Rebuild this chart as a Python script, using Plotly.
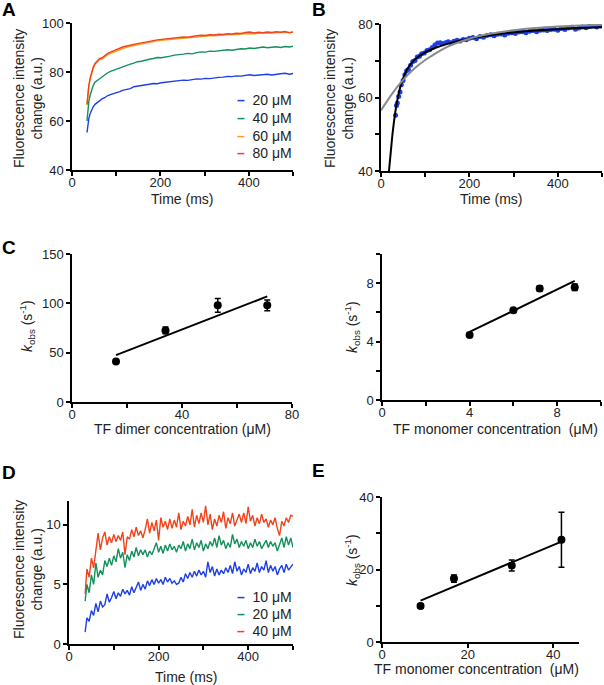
import plotly.graph_objects as go

W, H = 604, 685
FONT = "Liberation Sans, Arial, sans-serif"

BLUE = "#1f3fe6"
GREEN = "#14905c"
ORANGE = "#f5a11e"
RED = "#f2421c"

# ---- panel A: fluorescence traces, TF dimer titration ----
t_a = [34, 36, 38, 41, 44, 48, 52, 57, 62, 68,
       74, 80, 87, 94, 101, 108, 116, 124, 132, 140,
       148, 157, 166, 175, 184, 193, 202, 212, 222, 232,
       242, 252, 262, 272, 282, 292, 302, 312, 322, 332,
       342, 352, 362, 372, 382, 392, 402, 412, 422, 432,
       442, 452, 462, 472, 482, 492, 500]
a_20uM = [55.3, 58.5, 61.0, 63.0, 64.5, 65.8, 66.8, 67.5, 68.3, 69.0,
          69.5, 70.3, 70.8, 71.2, 71.3, 72.0, 72.6, 73.0, 73.2, 74.0,
          74.3, 74.5, 74.8, 75.0, 75.3, 75.2, 75.6, 75.8, 76.2, 76.3,
          76.4, 76.7, 76.6, 77.0, 77.2, 77.1, 77.4, 77.3, 77.7, 77.8,
          77.9, 78.2, 78.1, 78.4, 78.3, 78.6, 78.9, 78.6, 78.8, 78.9,
          79.1, 78.8, 79.2, 79.3, 79.5, 79.1, 79.4]
a_40uM = [60.0, 64.0, 68.0, 70.5, 72.5, 74.5, 75.8, 76.5, 77.3, 78.2,
          79.0, 79.6, 80.3, 80.8, 81.0, 81.8, 82.3, 82.7, 83.2, 83.6,
          84.2, 84.4, 84.9, 85.2, 85.5, 85.9, 85.8, 86.3, 86.5, 86.9,
          87.0, 87.3, 87.6, 87.4, 87.9, 88.2, 88.1, 88.5, 88.4, 88.7,
          88.9, 89.1, 88.9, 89.3, 89.5, 89.4, 89.8, 89.6, 89.9, 90.2,
          89.9, 90.1, 90.3, 90.0, 90.4, 90.2, 90.5]
a_60uM = [66.5, 70.5, 74.0, 77.0, 79.5, 81.5, 83.0, 84.0, 85.0, 85.3,
          86.3, 87.0, 87.6, 88.1, 88.6, 89.3, 89.8, 90.2, 90.5, 90.8,
          91.2, 91.5, 91.9, 92.2, 92.4, 92.7, 92.9, 93.1, 93.3, 93.5,
          93.7, 93.9, 94.0, 94.2, 94.3, 94.5, 94.6, 94.8, 94.8, 95.0,
          95.0, 95.2, 95.2, 95.4, 95.4, 95.6, 95.7, 95.6, 95.8, 95.9,
          95.8, 96.0, 96.0, 96.1, 96.1, 96.2, 96.2]
a_80uM = [66.8, 71.0, 74.5, 77.5, 80.0, 82.0, 83.5, 84.5, 85.5, 85.8,
          86.8, 87.5, 88.1, 88.6, 89.0, 89.8, 90.3, 90.6, 91.0, 91.2,
          91.6, 91.9, 92.3, 92.6, 92.8, 93.1, 93.3, 93.4, 93.7, 93.8,
          94.1, 94.3, 94.2, 94.6, 94.8, 95.0, 94.9, 95.2, 95.1, 95.4,
          95.3, 95.6, 95.5, 95.8, 95.7, 96.1, 96.3, 95.9, 96.2, 96.0,
          96.3, 96.1, 96.4, 96.2, 96.5, 96.0, 96.4]

# ---- panel B: 20 uM trace with double (black) and single (grey) exp fits ----
t_b = [33, 35, 37, 40, 43, 46, 50, 54, 58, 62,
       67, 72, 77, 82, 87, 92, 98, 104, 110, 116,
       122, 128, 134, 140, 146, 152, 158, 165, 172, 179,
       186, 193, 200, 208, 216, 224, 232, 240, 248, 256,
       264, 272, 280, 288, 296, 304, 312, 320, 328, 336,
       344, 352, 360, 368, 376, 384, 392, 400, 408, 416,
       424, 432, 440, 448, 456, 464, 472, 480, 488, 496]
b_trace = [55.2, 57.8, 58.5, 60.3, 61.5, 63.5, 64.6, 66.2, 67.3, 67.6,
           68.8, 69.8, 70.1, 71.0, 71.2, 71.9, 72.1, 72.8, 73.0, 73.6,
           74.3, 74.8, 74.9, 74.6, 74.9, 75.2, 74.9, 75.3, 75.6, 75.4,
           75.8, 75.7, 76.1, 76.3, 76.0, 76.6, 76.4, 76.9, 77.1, 76.8,
           77.2, 77.3, 77.0, 77.5, 77.6, 77.4, 77.8, 77.9, 77.6, 78.0,
           78.2, 77.9, 78.3, 78.4, 78.2, 78.5, 78.6, 78.3, 78.8, 78.5,
           78.9, 79.1, 78.6, 78.9, 79.2, 79.0, 79.4, 79.6, 79.2, 79.5]
t_fit2 = [18, 22, 26, 30, 35, 40, 45, 50, 60, 70, 80, 100, 125, 150,
          200, 250, 300, 350, 400, 450, 500]
fit_double = [40.0, 45.0, 50.0, 54.0, 58.0, 61.0, 63.5, 65.2, 67.8, 69.5,
              70.7, 72.3, 73.6, 74.6, 76.0, 77.0, 77.7, 78.2, 78.6, 78.9, 79.1]
t_fit1 = [0, 25, 50, 75, 100, 125, 150, 200, 250, 300, 350, 400, 450, 500]
fit_single = [56.5, 61.0, 64.8, 67.8, 70.2, 72.1, 73.8, 76.0, 77.4, 78.3,
              78.9, 79.3, 79.6, 79.8]

# ---- panel C: kobs vs concentration ----
dimer_conc = [16, 34, 53, 71]
dimer_kobs = [41, 72.5, 98, 98]
dimer_err = [1.5, 3.4, 7, 5.4]
dimer_fit_x = [16, 71]
dimer_fit_y = [47.5, 107]

mono_conc = [4.0, 6.0, 7.2, 8.8]
mono_kobs = [4.45, 6.15, 7.63, 7.72]
mono_err = [0.1, 0.1, 0.18, 0.22]
mono_fit_x = [4.0, 8.8]
mono_fit_y = [4.66, 8.16]

# ---- panel D: fluorescence traces, TF monomer titration ----
t_d = [36, 40, 45, 50, 55, 60, 65, 70, 75, 80,
       85, 90, 95, 100, 105, 110, 115, 120, 125, 130,
       135, 140, 145, 150, 155, 160, 165, 170, 175, 180,
       185, 190, 195, 200, 205, 210, 215, 220, 225, 230,
       235, 240, 245, 250, 255, 260, 265, 270, 275, 280,
       285, 290, 295, 300, 305, 310, 315, 320, 325, 330,
       335, 340, 345, 350, 355, 360, 365, 370, 375, 380,
       385, 390, 395, 400, 405, 410, 415, 420, 425, 430,
       435, 440, 445, 450, 455, 460, 465, 470, 475, 480,
       485, 490, 495, 500]
d_10uM = [1.0, 2.2, 1.9, 2.8, 2.4, 3.4, 2.7, 3.6, 3.1, 3.3,
          4.2, 3.5, 3.9, 4.4, 3.8, 4.3, 4.0, 4.6, 4.2, 4.5,
          4.1, 4.8, 4.3, 4.7, 5.2, 4.5, 5.0, 4.6, 5.3, 4.9,
          5.4, 5.0, 5.5, 5.1, 5.4, 5.0, 5.6, 5.2, 5.5, 5.1,
          5.3, 5.0, 5.1, 5.6, 5.2, 5.9, 5.5, 6.0, 5.6, 6.1,
          5.7, 6.2, 5.8, 6.1, 5.6, 6.9, 6.0, 6.5, 5.7, 6.3,
          5.8, 6.2, 5.9, 6.4, 6.0, 6.6, 5.9, 6.9, 6.1, 6.5,
          5.8, 6.3, 6.0, 6.7, 5.9, 6.4, 6.1, 6.8, 6.0, 6.5,
          6.2, 7.0, 6.0, 6.6, 6.1, 6.5, 5.8, 6.3, 6.6, 6.0,
          6.7, 6.2, 6.5, 6.7]
d_20uM = [3.6, 5.0, 4.3, 5.8, 5.0, 6.8, 5.6, 6.2, 5.8, 7.0,
          6.5, 7.2, 6.6, 7.4, 6.9, 8.0, 7.2, 7.7, 6.4, 7.5,
          7.0, 7.8, 7.3, 8.1, 7.4, 7.9, 7.5, 7.9, 7.3, 7.8,
          7.5, 8.1, 8.5, 7.7, 8.2, 7.6, 8.3, 7.8, 8.4, 7.9,
          8.2, 7.7, 8.3, 8.0, 8.6, 7.8, 8.4, 8.0, 8.8, 7.9,
          8.5, 8.1, 8.7, 7.8, 8.4, 8.0, 8.6, 8.2, 8.9, 8.1,
          9.1, 8.3, 8.7, 8.0, 8.5, 8.1, 9.2, 8.4, 8.8, 8.1,
          8.6, 8.2, 8.7, 8.0, 8.5, 8.1, 8.8, 8.2, 8.6, 8.0,
          8.4, 8.7, 8.1, 8.6, 8.2, 8.5, 7.8, 8.4, 8.9, 8.1,
          9.0, 8.3, 8.9, 8.1]
d_40uM = [4.2, 6.3, 5.6, 7.2, 6.4, 7.8, 9.3, 7.9, 8.9, 9.4,
          8.3, 9.0, 8.5, 9.2, 8.6, 9.1, 8.7, 9.4, 7.5, 9.0,
          8.8, 9.6, 9.0, 9.8, 9.1, 9.5, 8.9, 9.6, 10.5, 9.3,
          10.2, 9.5, 10.4, 8.7, 10.6, 9.8, 10.3, 9.6, 10.5, 9.7,
          10.4, 9.8, 11.0, 9.6, 10.3, 9.9, 10.7, 10.0, 11.3, 9.8,
          10.8, 10.1, 11.0, 10.2, 11.6, 10.0, 10.9, 9.6, 10.5, 9.9,
          10.8, 10.2, 11.1, 9.7, 10.6, 10.1, 11.0, 9.9, 10.4, 10.9,
          10.2, 11.0, 10.1, 11.5, 10.3, 10.8, 9.9, 10.6, 10.1, 10.9,
          10.2, 10.5, 9.8, 10.4, 10.0, 10.6, 9.7, 9.1, 10.3, 9.9,
          10.6, 10.2, 10.8, 10.7]

# ---- panel E: kobs vs TF monomer concentration ----
e_conc = [9.0, 16.8, 30.3, 41.9]
e_kobs = [9.9, 17.5, 21.1, 28.2]
e_err = [0.6, 1.0, 1.5, 7.6]
e_fit_x = [9.0, 41.9]
e_fit_y = [11.4, 27.7]


def px(x):
    return x / W


def py(y):
    return 1 - y / H


fig = go.Figure()

# A
for ys, col in [(a_20uM, BLUE), (a_40uM, GREEN), (a_60uM, ORANGE), (a_80uM, RED)]:
    fig.add_trace(go.Scatter(x=t_a, y=ys, mode="lines", line=dict(color=col, width=1.4),
                             xaxis="x", yaxis="y"))
# B
fig.add_trace(go.Scatter(x=t_b, y=b_trace, mode="markers",
                         marker=dict(color=BLUE, size=5, line=dict(width=0)),
                         xaxis="x2", yaxis="y2"))
fig.add_trace(go.Scatter(x=t_fit2, y=fit_double, mode="lines", line=dict(color="black", width=2, shape="spline"),
                         xaxis="x2", yaxis="y2"))
fig.add_trace(go.Scatter(x=t_fit1, y=fit_single, mode="lines", line=dict(color="#8a8a8a", width=2, shape="spline"),
                         xaxis="x2", yaxis="y2"))


def kobs_panel(xs, ys, err, fx, fy, ax):
    fig.add_trace(go.Scatter(x=fx, y=fy, mode="lines", line=dict(color="black", width=2),
                             xaxis="x" + ax, yaxis="y" + ax))
    fig.add_trace(go.Scatter(x=xs, y=ys, mode="markers",
                             marker=dict(color="black", size=8),
                             error_y=dict(type="data", array=err, color="black", thickness=1.5, width=3),
                             xaxis="x" + ax, yaxis="y" + ax))


kobs_panel(dimer_conc, dimer_kobs, dimer_err, dimer_fit_x, dimer_fit_y, "3")
kobs_panel(mono_conc, mono_kobs, mono_err, mono_fit_x, mono_fit_y, "4")

# D
for ys, col in [(d_10uM, BLUE), (d_20uM, GREEN), (d_40uM, RED)]:
    fig.add_trace(go.Scatter(x=t_d, y=ys, mode="lines", line=dict(color=col, width=1.4),
                             xaxis="x5", yaxis="y5"))

kobs_panel(e_conc, e_kobs, e_err, e_fit_x, e_fit_y, "6")

# panel boxes in pixels: x0, x1, ytop, ybottom
boxes = {
    "": (72, 293, 23, 170),
    "2": (381, 602, 24, 171),
    "3": (72, 292, 254, 402),
    "4": (382, 601, 254, 400),
    "5": (69, 293, 501, 644),
    "6": (382, 579, 497, 642),
}
ranges = {
    "": ([0, 500], [40, 100]),
    "2": ([0, 500], [40, 80]),
    "3": ([0, 80], [0, 150]),
    "4": ([0, 10], [0, 10]),
    "5": ([0, 500], [0, 12]),
    "6": ([0, 46], [0, 40]),
}
xticks = {
    "": ([0, 100, 200, 300, 400, 500], ["0", "", "200", "", "400", ""]),
    "2": ([0, 100, 200, 300, 400, 500], ["0", "", "200", "", "400", ""]),
    "3": ([0, 20, 40, 60, 80], ["0", "", "40", "", "80"]),
    "4": ([0, 2, 4, 6, 8, 10], ["0", "", "4", "", "8", ""]),
    "5": ([0, 100, 200, 300, 400, 500], ["0", "", "200", "", "400", ""]),
    "6": ([0, 20, 40], ["0", "20", "40"]),
}
yticks = {
    "": ([40, 60, 80, 100], ["40", "60", "80", "100"]),
    "2": ([40, 50, 60, 70, 80], ["40", "", "60", "", "80"]),
    "3": ([0, 50, 100, 150], ["0", "50", "100", "150"]),
    "4": ([0, 2, 4, 6, 8, 10], ["0", "", "4", "", "8", ""]),
    "5": ([0, 5, 10], ["0", "5", "10"]),
    "6": ([0, 10, 20, 30, 40], ["0", "", "20", "", "40"]),
}

axis_style = dict(showgrid=False, zeroline=False, showline=True, linecolor="black", linewidth=1.5,
                  ticks="outside", ticklen=4, tickwidth=1.5, tickcolor="black", automargin=False,
                  tickfont=dict(family=FONT, size=13, color="#222"), tickmode="array")

layout = {}
for k, (x0, x1, yt, yb) in boxes.items():
    layout["xaxis" + k] = dict(axis_style, domain=[px(x0), px(x1)], range=ranges[k][0],
                               anchor="y" + k, tickvals=xticks[k][0], ticktext=xticks[k][1],
                               ticklabelstandoff=-4)
    layout["yaxis" + k] = dict(axis_style, domain=[py(yb), py(yt)], range=ranges[k][1],
                               anchor="x" + k, tickvals=yticks[k][0], ticktext=yticks[k][1])

fig.update_layout(**layout)

ann = []


def text(s, x, y, size=14, angle=0, xa="center", bold=False):
    ann.append(dict(text="<b>%s</b>" % s if bold else s, x=px(x), y=py(y), xref="paper", yref="paper",
                    showarrow=False, textangle=angle, xanchor=xa, yanchor="middle",
                    font=dict(family=FONT, size=size, color="#222" if not bold else "black")))


flu = "Fluorescence intensity<br>change (a.u.)"
kobs = "<i>k</i><sub>obs</sub> (s<sup>-1</sup>)"

# panel letters
text("A", 0, 10, 19, xa="left", bold=True)
text("B", 310, 10, 19, xa="left", bold=True)
text("C", 0, 247, 19, xa="left", bold=True)
text("D", 0, 473, 19, xa="left", bold=True)
text("E", 310, 470, 19, xa="left", bold=True)

# axis titles
text(flu, 28, 99, angle=-90)
text(flu, 339, 99, angle=-90)
text(kobs, 27, 326, angle=-90)
text(kobs, 352, 327, angle=-90)
text(flu, 28, 570, angle=-90)
text(kobs, 352, 560, angle=-90)
text("Time (ms)", 182, 199)
text("Time (ms)", 491, 199)
text("TF dimer concentration (μM)", 182, 429)
text("TF monomer concentration  (μM)", 495, 429)
text("Time (ms)", 186, 677)
text("TF monomer concentration  (μM)", 476, 669)

# legends
for lab, col, y in [("20 μM", BLUE, 100), ("40 μM", GREEN, 118), ("60 μM", ORANGE, 136), ("80 μM", RED, 153)]:
    text('<span style="color:%s"><b>–</b></span>  %s' % (col, lab), 235, y, xa="left")
for lab, col, y in [("10 μM", BLUE, 597), ("20 μM", GREEN, 614), ("40 μM", RED, 631)]:
    text('<span style="color:%s"><b>–</b></span>  %s' % (col, lab), 235, y, xa="left")

fig.update_layout(width=W, height=H, margin=dict(l=0, r=0, t=0, b=0),
                  paper_bgcolor="white", plot_bgcolor="white", showlegend=False,
                  annotations=ann, font=dict(family=FONT))

# the page's default body margin would push the figure 8px off the window
fig.write_html("out.html", config={"displayModeBar": False},
               post_script="document.body.style.margin='0';document.body.style.overflow='hidden';")
